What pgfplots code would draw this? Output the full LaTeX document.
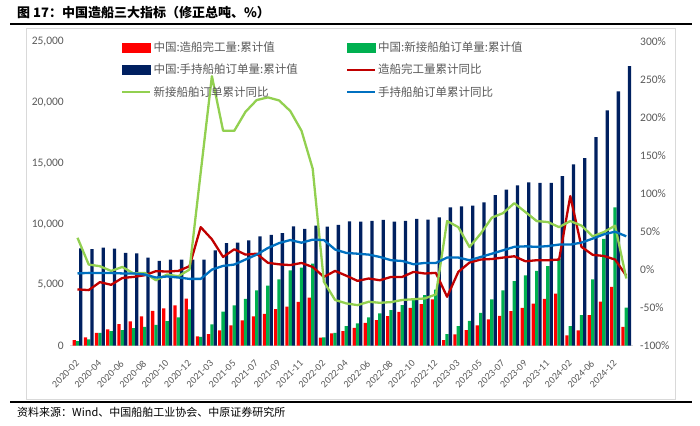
\documentclass[border=0pt]{standalone}
\usepackage{fontspec}
\setmainfont{Carlito}
\newfontfamily\cjk{Noto Sans CJK SC}
\usepackage{pgfplots}
\usepackage{pgfplotstable}
\pgfplotsset{compat=1.18}
\definecolor{cRed}{HTML}{FF0000}
\definecolor{cGreen}{HTML}{00B050}
\definecolor{cNavy}{HTML}{002060}
\definecolor{lRed}{HTML}{C00000}
\definecolor{lGreen}{HTML}{92D050}
\definecolor{lBlue}{HTML}{0070C0}
\definecolor{tickgray}{HTML}{595959}
\definecolor{framegray}{HTML}{D9D9D9}

\pgfplotstableread{
idx comp new hold cy ny hy
0 450 370 8000 -26 42 -5
1 670 510 7930 -27 6.7 -4.3
2 1050 1050 8070 -16.5 4.5 -4.5
3 1330 1190 7970 -20 -1.7 -4.5
4 1760 1270 7640 -11 3.5 -5
5 1980 1430 7580 -9.6 -5 -5
6 2390 1540 7230 -7.4 -4.3 -6.4
7 2850 1700 6980 -2 -14 -10.4
8 3050 2000 7070 -2.5 -6.4 -9
9 3300 2310 7070 -1.7 -8.7 -10.4
10 3870 2970 7070 4.5 0 -12.2
11 750 720 7070 56 128 -12.2
12 940 1740 7830 40 255 0
13 1250 2800 8430 16.7 183 4.9
14 1660 3300 8480 26.8 183 6.7
15 2070 3840 8670 19.8 208 13.3
16 2390 4550 8980 21 223.5 19.8
17 2600 4930 9110 9 227 28.5
18 2990 5450 9250 7 223 35
19 3210 6190 9820 6 209 39
20 3590 6410 9600 8.8 183 35.5
21 3950 6740 9880 3.5 133 39.5
22 640 670 9800 -9.6 -16 39
23 1000 1050 9930 -1.7 -40 26.5
24 1190 1600 10230 -8 -44.5 22
25 1460 1820 10200 -14.8 -46.8 21
26 1870 2310 10260 -11.7 -42.4 19.8
27 2090 2640 10340 -14 -43.7 16.7
28 2420 2910 10200 -9.6 -42.8 12.4
29 2770 3320 10260 -9.6 -40 11.4
30 3100 3790 10430 -3 -39 7.1
31 3400 4140 10370 -5.1 -38 8.8
32 3790 4610 10560 -4.3 -32.7 8.8
33 450 940 11380 -35.8 64 15.9
34 920 1600 11460 -3 56 15.9
35 1270 2030 11520 9.3 29.8 12.4
36 1660 2690 11790 13.3 47.4 16.7
37 2150 3810 12390 14 68.5 21
38 2440 4550 12830 15.9 74.5 25.5
39 2830 5310 13180 17.6 87.6 30
40 3100 5780 13430 11 75.8 30.7
41 3460 6140 13400 12.4 64 30
42 3840 6540 13400 12.4 62.7 31
43 4280 7150 13950 13.3 56 33
44 840 1600 14930 97 64 33
45 1250 2500 15430 30 58 35.6
46 2500 5450 17170 19.5 43.9 40.9
47 3620 8790 19360 18 49.5 46.5
48 4820 11380 20940 13.3 58 50
49 1540 3130 23020 -8 -11.7 43.9
}\data

\begin{document}
\begin{tikzpicture}
\useasboundingbox (0pt,-425pt) rectangle (700pt,0pt);
\draw[black, line width=1.8pt] (10pt,-24pt) -- (692pt,-24pt);
\draw[black, line width=1.8pt] (10pt,-402pt) -- (692pt,-402pt);
\draw[framegray, line width=0.8pt] (26pt,-28pt) rectangle (675.5pt,-399pt);
\node[anchor=west, inner sep=0pt, font=\cjk\bfseries\fontsize{13}{15}\selectfont] at (17pt,-13pt) {图 17：中国造船三大指标（修正总吨、\%）};
\node[anchor=west, inner sep=0pt, font=\cjk\fontsize{11}{13}\selectfont] at (17pt,-412.5pt) {资料来源：Wind、中国船舶工业协会、中原证券研究所};

\begin{axis}[
  at={(70pt,-345.5pt)}, anchor=south west,
  scale only axis, width=563pt, height=303.5pt,
  xmin=-0.67, xmax=49.6, ymin=0, ymax=25000,
  ybar=0pt, bar width=3.3pt,
  axis y line*=left, axis x line*=bottom,
  y axis line style={draw=none},
  x axis line style={framegray, line width=0.8pt, -},
  major tick length=0pt,
  ytick={0,5000,10000,15000,20000,25000},
  scaled y ticks=false,
  yticklabel style={font=\fontsize{11.5}{13}\selectfont, text=tickgray, inner sep=0pt, xshift=-6pt},
  /pgf/number format/1000 sep={,},
  /pgf/number format/assume math mode=true,
  xtick={0,2,...,48},
  xticklabels={2020-02,2020-04,2020-06,2020-08,2020-10,2020-12,2021-03,2021-05,2021-07,2021-09,2021-11,2022-02,2022-04,2022-06,2022-08,2022-10,2022-12,2023-03,2023-05,2023-07,2023-09,2023-11,2024-02,2024-06,2024-12},
  xticklabel style={font=\fontsize{10}{12}\selectfont, text=tickgray, inner sep=0pt, yshift=-14pt, xshift=-2.5pt, rotate=45, anchor=north east},
]
\addplot[fill=cRed, draw=none] table[x=idx,y=comp]{\data};
\addplot[fill=cGreen, draw=none] table[x=idx,y=new]{\data};
\addplot[fill=cNavy, draw=none] table[x=idx,y=hold]{\data};
\end{axis}

\begin{axis}[
  at={(70pt,-345.5pt)}, anchor=south west,
  scale only axis, width=563pt, height=303.5pt,
  xmin=-0.67, xmax=49.6, ymin=-100, ymax=300,
  axis y line*=right, axis x line=none,
  y axis line style={draw=none},
  major tick length=0pt,
  ytick={-100,-50,0,50,100,150,200,250,300},
  yticklabel={\pgfmathprintnumber{\tick}\%},
  yticklabel style={font=\fontsize{11.5}{13}\selectfont, text=tickgray, inner sep=0pt, xshift=7pt, anchor=west},
  /pgf/number format/assume math mode=true,
  legend columns=2,
  legend cell align=left,
  legend style={at={(0.0906,1.008)}, anchor=north west, draw=none, fill=none,
    inner sep=0pt, font=\cjk\fontsize{11.5}{13}\selectfont, text=tickgray,
    row sep=7pt,
    /tikz/every even column/.append style={column sep=46pt}},
  legend image code/.code={\draw[#1] (0pt,0pt) -- (28pt,0pt);},
]
\addlegendimage{legend image code/.code={\fill[cRed] (0pt,-4.5pt) rectangle (28pt,4.5pt);}}
\addlegendentry{中国:造船完工量:累计值}
\addlegendimage{legend image code/.code={\fill[cGreen] (0pt,-4.5pt) rectangle (28pt,4.5pt);}}
\addlegendentry{中国:新接船舶订单量:累计值}
\addlegendimage{legend image code/.code={\fill[cNavy] (0pt,-4.5pt) rectangle (28pt,4.5pt);}}
\addlegendentry{中国:手持船舶订单量:累计值}
\addplot[lRed, line width=2.3pt, line join=round] table[x=idx,y=cy]{\data};
\addlegendentry{造船完工量累计同比}
\addplot[lGreen, line width=2.3pt, line join=round] table[x=idx,y=ny]{\data};
\addlegendentry{新接船舶订单累计同比}
\addplot[lBlue, line width=2.3pt, line join=round] table[x=idx,y=hy]{\data};
\addlegendentry{手持船舶订单累计同比}
\end{axis}
\end{tikzpicture}
\end{document}
